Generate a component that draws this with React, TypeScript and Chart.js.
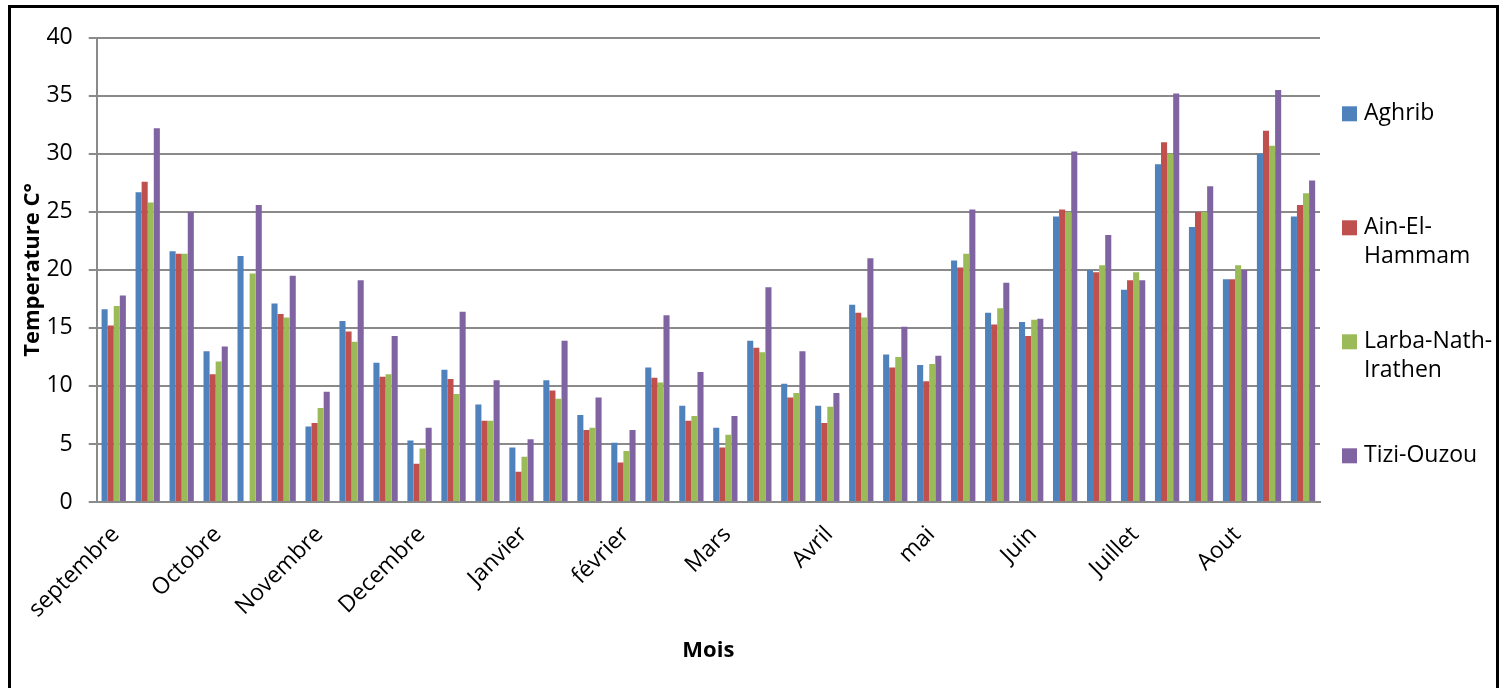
import React, { useEffect, useRef } from 'react';
import { Chart, registerables } from 'chart.js';

Chart.register(...registerables);

const FONT = "'Open Sans', sans-serif";
const LABEL_SIZE = 23;
const TITLE_SIZE = 22;

const months = ['septembre', 'Octobre', 'Novembre', 'Decembre', 'Janvier', 'février', 'Mars', 'Avril', 'mai', 'Juin', 'Juillet', 'Aout'];
// three bar groups per month, only the first one labelled
const categories = months.flatMap((m) => [m, '', '']);

const seriesNames = ['Aghrib', 'Ain-El-Hammam', 'Larba-Nath-Irathen', 'Tizi-Ouzou'];
const legendLines = [['Aghrib'], ['Ain-El-', 'Hammam'], ['Larba-Nath-', 'Irathen'], ['Tizi-Ouzou']];
const seriesColors = ['#4F81BD', '#C0504D', '#9BBB59', '#8064A2'];

const aghrib = [16.6, 26.7, 21.6, 13.0, 21.2, 17.1, 6.5, 15.6, 12.0, 5.3, 11.4, 8.4, 4.7, 10.5, 7.5, 5.1, 11.6, 8.3, 6.4, 13.9, 10.2, 8.3, 17.0, 12.7, 11.8, 20.8, 16.3, 15.5, 24.6, 20.0, 18.3, 29.1, 23.7, 19.2, 30.0, 24.6];
const ainElHammam = [15.2, 27.6, 21.4, 11.0, null, 16.2, 6.8, 14.7, 10.8, 3.3, 10.6, 7.0, 2.6, 9.6, 6.2, 3.4, 10.7, 7.0, 4.7, 13.3, 9.0, 6.8, 16.3, 11.6, 10.4, 20.2, 15.3, 14.3, 25.2, 19.8, 19.1, 31.0, 25.0, 19.2, 32.0, 25.6];
const larbaNathIrathen = [16.9, 25.8, 21.4, 12.1, 19.7, 15.9, 8.1, 13.8, 11.0, 4.6, 9.3, 7.0, 3.9, 8.9, 6.4, 4.4, 10.3, 7.4, 5.8, 12.9, 9.4, 8.2, 15.9, 12.5, 11.9, 21.4, 16.7, 15.7, 25.0, 20.4, 19.8, 30.0, 25.0, 20.4, 30.7, 26.6];
const tiziOuzou = [17.8, 32.2, 25.0, 13.4, 25.6, 19.5, 9.5, 19.1, 14.3, 6.4, 16.4, 10.5, 5.4, 13.9, 9.0, 6.2, 16.1, 11.2, 7.4, 18.5, 13.0, 9.4, 21.0, 15.1, 12.6, 25.2, 18.9, 15.8, 30.2, 23.0, 19.1, 35.2, 27.2, 20.0, 35.5, 27.7];

const seriesValues = [aghrib, ainElHammam, larbaNathIrathen, tiziOuzou];

const yMin = 0;
const yMax = 40;
const yStep = 5;

const GRID = '#8a8a8a';

const sideLegend = {
  id: 'sideLegend',
  afterDraw(chart: any) {
    const { ctx, chartArea } = chart;
    ctx.save();
    ctx.font = `${LABEL_SIZE}px ${FONT}`;
    ctx.textBaseline = 'middle';
    ctx.textAlign = 'left';
    chart.data.datasets.forEach((ds: any, i: number) => {
      const cy = chartArea.top + 76 + i * 114;
      const sx = chartArea.right + 22;
      ctx.fillStyle = ds.backgroundColor;
      ctx.fillRect(sx, cy - 7.5, 15, 15);
      ctx.fillStyle = '#000';
      legendLines[i].forEach((line, j) => ctx.fillText(line, sx + 22, cy + j * 29));
    });
    ctx.restore();
  },
};

export default function App() {
  const ref = useRef<HTMLCanvasElement>(null);

  useEffect(() => {
    if (!ref.current) return;
    const chart = new Chart(ref.current, {
      type: 'bar',
      data: {
        labels: categories,
        datasets: seriesNames.map((name, i) => ({
          label: name,
          data: seriesValues[i],
          backgroundColor: seriesColors[i],
          borderWidth: 0,
          categoryPercentage: 0.715,
          barPercentage: 1.0,
        })),
      },
      options: {
        responsive: false,
        animation: false,
        layout: { padding: { left: 0, top: 28, right: 176, bottom: 0 } },
        plugins: {
          legend: { display: false },
          tooltip: { enabled: false },
        },
        scales: {
          x: {
            afterFit: (scale: any) => {
              scale.height = 186;
            },
            grid: { display: false, drawTicks: false },
            border: { display: true, color: GRID, width: 2 },
            ticks: {
              autoSkip: false,
              maxRotation: 45,
              minRotation: 45,
              padding: 19,
              labelOffset: 2,
              color: '#000',
              font: { family: FONT, size: LABEL_SIZE },
              callback: (_v: any, idx: number) => categories[idx],
            },
            title: {
              display: true,
              text: 'Mois',
              color: '#000',
              font: { family: FONT, size: TITLE_SIZE, weight: 'bold' },
              padding: { top: 0, bottom: 24 },
            },
          },
          y: {
            min: yMin,
            max: yMax,
            afterFit: (scale: any) => {
              scale.width = 85;
            },
            ticks: {
              stepSize: yStep,
              padding: 16,
              color: '#000',
              font: { family: FONT, size: LABEL_SIZE },
            },
            grid: { color: GRID, lineWidth: 2, tickLength: 8, tickColor: GRID, tickWidth: 2 },
            border: { display: true, color: GRID, width: 2 },
            title: {
              display: true,
              text: 'Temperature C°',
              color: '#000',
              font: { family: FONT, size: TITLE_SIZE, weight: 'bold' },
              padding: { top: 8, bottom: 0 },
            },
          },
        },
      },
      plugins: [sideLegend],
    });
    return () => chart.destroy();
  }, []);

  return (
    <div
      style={{
        position: 'absolute',
        left: 8,
        top: 5,
        width: 1491,
        height: 700,
        border: '3px solid #000',
        boxSizing: 'border-box',
        background: '#fff',
      }}
    >
      <canvas ref={ref} width={1485} height={680} style={{ display: 'block', width: 1485, height: 680 }} />
    </div>
  );
}
